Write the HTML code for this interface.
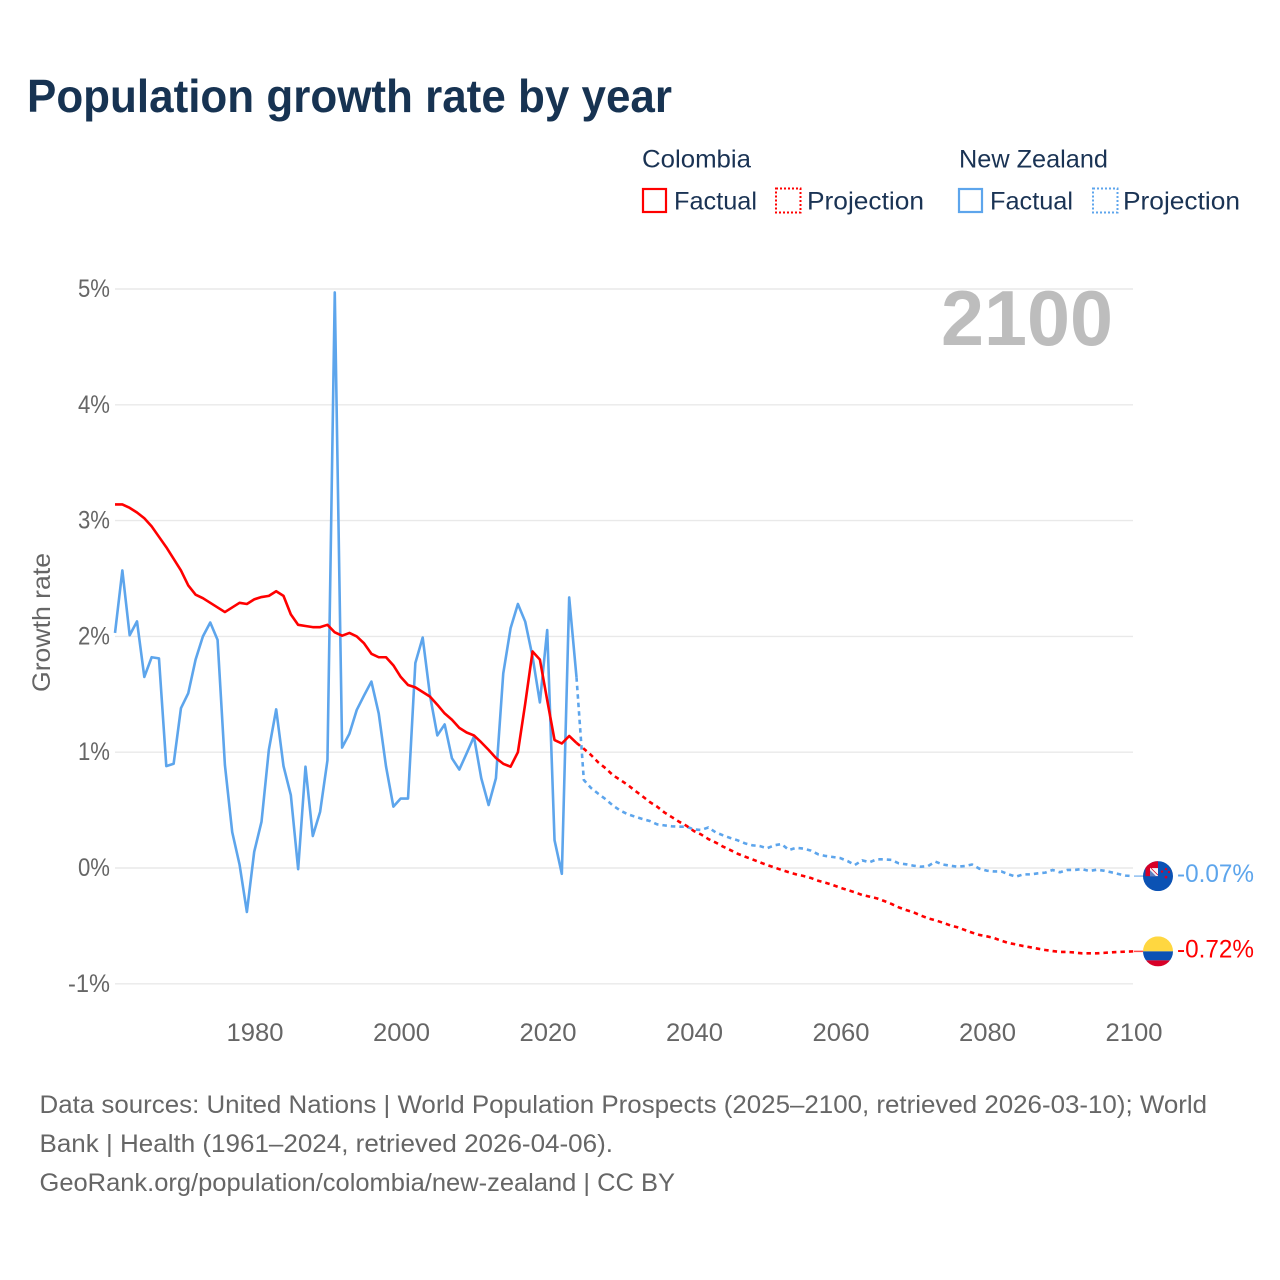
<!DOCTYPE html>
<html lang="en">
<head>
<meta charset="utf-8">
<title>Population growth rate by year</title>
<style>
html,body{margin:0;padding:0;background:#fff;}
svg{display:block;font-family:"Liberation Sans",sans-serif;}
</style>
</head>
<body>
<svg id="chart" xmlns="http://www.w3.org/2000/svg" width="1280" height="1280" viewBox="0 0 1280 1280">
  <rect x="0" y="0" width="1280" height="1280" fill="#ffffff"/>
  <text x="27" y="112" font-size="46" font-weight="700" fill="#173352" textLength="645" lengthAdjust="spacingAndGlyphs">Population growth rate by year</text>

  <g font-size="25" fill="#1a3354">
    <text x="642" y="167.5" textLength="109" lengthAdjust="spacingAndGlyphs">Colombia</text>
    <text x="959" y="167.5" textLength="149" lengthAdjust="spacingAndGlyphs">New Zealand</text>
    <rect x="643" y="189" width="23" height="23" fill="none" stroke="#ff0000" stroke-width="2.2"/>
    <text x="674" y="209.5" textLength="83" lengthAdjust="spacingAndGlyphs">Factual</text>
    <rect x="776" y="188.5" width="24.5" height="24" fill="none" stroke="#ff0000" stroke-width="2" stroke-dasharray="2 2"/>
    <text x="807" y="209.5" textLength="117" lengthAdjust="spacingAndGlyphs">Projection</text>
    <rect x="959" y="189" width="23" height="23" fill="none" stroke="#5da5ec" stroke-width="2.2"/>
    <text x="990" y="209.5" textLength="83" lengthAdjust="spacingAndGlyphs">Factual</text>
    <rect x="1093" y="188.5" width="24.5" height="24" fill="none" stroke="#5da5ec" stroke-width="2" stroke-dasharray="2 2"/>
    <text x="1123" y="209.5" textLength="117" lengthAdjust="spacingAndGlyphs">Projection</text>
  </g>

  <g id="grid"></g>
  <g id="yticks" font-size="25" fill="#666666"></g>
  <g id="xticks" font-size="25" fill="#666666"></g>
  <text transform="translate(50 622.5) rotate(-90)" text-anchor="middle" font-size="25" fill="#666666" textLength="139" lengthAdjust="spacingAndGlyphs">Growth rate</text>
  <text x="1113" y="345" text-anchor="end" font-size="78" font-weight="700" fill="#bdbdbd" textLength="172" lengthAdjust="spacingAndGlyphs">2100</text>

  <g id="series"></g>

  <defs>
    <clipPath id="flag-clip"><circle cx="0" cy="0" r="15"/></clipPath>
  </defs>
  <g id="flag-nz">
    <g clip-path="url(#flag-clip)">
      <rect x="-15" y="-15" width="30" height="30" fill="#0b52b4"/>
      <rect x="-12.5" y="-15" width="12.5" height="15" fill="#d80027"/>
      <rect x="-8" y="-8" width="8" height="8" fill="#f4f4f8"/>
      <path d="M-8,-6 L-8,0 L-2,0 Z" fill="#5f7fc0"/>
      <path d="M-7,-8 L0,-1" stroke="#d80027" stroke-width="0.8" fill="none"/>
      <circle cx="4" cy="-4.5" r="1.2" fill="#d80027"/>
      <circle cx="8" cy="-7" r="1.2" fill="#d80027"/>
      <circle cx="11" cy="-4" r="1.2" fill="#d80027"/>
      <circle cx="8" cy="1" r="1.4" fill="#d80027"/>
    </g>
  </g>
  <g id="flag-co">
    <g clip-path="url(#flag-clip)">
      <rect x="-15" y="-15" width="30" height="15" fill="#ffd740"/>
      <rect x="-15" y="0" width="30" height="9" fill="#0b52b4"/>
      <rect x="-15" y="9" width="30" height="6" fill="#d80027"/>
    </g>
  </g>
  <text id="end-nz" x="1177" font-size="25" fill="#5da5ec" textLength="77" lengthAdjust="spacingAndGlyphs"></text>
  <text id="end-co" x="1177" font-size="25" fill="#ff0000" textLength="77" lengthAdjust="spacingAndGlyphs"></text>

  <g font-size="25" fill="#666666">
    <text x="39.5" y="1113" textLength="1167.5" lengthAdjust="spacingAndGlyphs">Data sources: United Nations | World Population Prospects (2025–2100, retrieved 2026-03-10); World</text>
    <text x="39.5" y="1152" textLength="573.5" lengthAdjust="spacingAndGlyphs">Bank | Health (1961–2024, retrieved 2026-04-06).</text>
    <text x="39.5" y="1191" textLength="635.5" lengthAdjust="spacingAndGlyphs">GeoRank.org/population/colombia/new-zealand | CC BY</text>
  </g>
</svg>
<script>
const yTickValues = [5, 4, 3, 2, 1, 0, -1];
const xTickYears = [1980, 2000, 2020, 2040, 2060, 2080, 2100];
const factualStartYear = 1961;
const projectionStartYear = 2024;

const colombiaFactual = [3.14,3.14,3.11,3.07,3.02,2.95,2.86,2.77,2.67,2.57,2.44,2.36,2.33,2.29,2.25,2.21,2.25,2.29,2.28,2.32,2.34,2.35,2.39,2.35,2.19,2.10,2.09,2.08,2.08,2.10,2.035,2.006,2.03,2.00,1.94,1.85,1.82,1.82,1.75,1.65,1.58,1.56,1.52,1.48,1.41,1.335,1.28,1.21,1.17,1.145,1.085,1.02,0.95,0.90,0.875,1.00,1.42,1.87,1.80,1.45,1.105,1.075,1.14,1.08];

const colombiaProjection = [1.08,1.03,0.975,0.91,0.86,0.80,0.76,0.717,0.667,0.62,0.57,0.53,0.48,0.44,0.40,0.365,0.32,0.29,0.25,0.22,0.185,0.155,0.123,0.098,0.075,0.05,0.026,0.005,-0.017,-0.037,-0.055,-0.069,-0.086,-0.11,-0.127,-0.147,-0.17,-0.19,-0.21,-0.233,-0.247,-0.262,-0.285,-0.31,-0.34,-0.363,-0.383,-0.41,-0.435,-0.452,-0.472,-0.495,-0.512,-0.535,-0.558,-0.578,-0.59,-0.605,-0.628,-0.648,-0.66,-0.674,-0.685,-0.697,-0.708,-0.717,-0.725,-0.725,-0.73,-0.737,-0.737,-0.737,-0.733,-0.728,-0.725,-0.722,-0.72];

const newZealandFactual = [2.03,2.57,2.01,2.13,1.65,1.82,1.81,0.88,0.90,1.38,1.51,1.80,2.00,2.12,1.97,0.89,0.31,0.03,-0.38,0.14,0.40,1.02,1.37,0.88,0.63,-0.01,0.875,0.276,0.486,0.93,4.97,1.04,1.16,1.365,1.49,1.61,1.335,0.875,0.53,0.60,0.60,1.77,1.99,1.49,1.145,1.24,0.947,0.85,0.99,1.134,0.775,0.544,0.775,1.68,2.07,2.28,2.127,1.825,1.43,2.055,0.24,-0.05,2.337,1.647];

const newZealandProjection = [1.647,0.76,0.69,0.64,0.593,0.538,0.495,0.464,0.443,0.423,0.406,0.377,0.368,0.36,0.357,0.357,0.334,0.328,0.35,0.308,0.282,0.259,0.239,0.213,0.196,0.19,0.17,0.196,0.207,0.155,0.175,0.167,0.15,0.118,0.104,0.095,0.086,0.06,0.026,0.066,0.05,0.075,0.075,0.07,0.04,0.032,0.02,0.011,0.017,0.055,0.03,0.02,0.011,0.017,0.03,-0.006,-0.023,-0.03,-0.03,-0.055,-0.075,-0.055,-0.055,-0.046,-0.04,-0.017,-0.037,-0.017,-0.017,-0.009,-0.026,-0.015,-0.023,-0.037,-0.052,-0.066,-0.07];

const SVG_NS = 'http://www.w3.org/2000/svg';
const xScale = year => 255 + (year - 1980) * 7.325;
const markX = year => xScale(year) - 0.8;
const yScale = value => 868 - value * 115.8;
const plotLeft = 115;
const plotRight = 1133;
const flagX = 1158;

function make(tag, attrs, parent) {
  const el = document.createElementNS(SVG_NS, tag);
  Object.keys(attrs).forEach(k => el.setAttribute(k, attrs[k]));
  parent.appendChild(el);
  return el;
}

const gridLayer = document.getElementById('grid');
const yLayer = document.getElementById('yticks');
const xLayer = document.getElementById('xticks');
const seriesLayer = document.getElementById('series');

yTickValues.forEach(v => {
  const line = make('line', {x1: plotLeft, x2: plotRight, y1: yScale(v), y2: yScale(v), stroke: '#e9e9e9', 'stroke-width': 1.4}, gridLayer);
  
  
  const label = make('text', {x: 110, y: yScale(v) + 8, 'text-anchor': 'end', textLength: v < 0 ? 42 : 32, lengthAdjust: 'spacingAndGlyphs'}, yLayer);
  
  
  label.textContent = v + '%';
});

xTickYears.forEach(y => {
  const label = make('text', {x: xScale(y), y: 1041, 'text-anchor': 'middle', textLength: 57, lengthAdjust: 'spacingAndGlyphs'}, xLayer);
  
  
  label.textContent = y;
});

function pathFrom(values, startYear) {
  return values.map((v, i) => markX(startYear + i).toFixed(2) + ',' + yScale(v).toFixed(2)).join(' ');
}

function drawLine(values, startYear, colour, dash, name) {
  const attrs = {points: pathFrom(values, startYear), fill: 'none', stroke: colour, 'stroke-width': 2.6, 'stroke-linejoin': 'round'};
  if (dash) attrs['stroke-dasharray'] = dash;
  const line = make('polyline', attrs, seriesLayer);
  
  
}

drawLine(newZealandFactual, factualStartYear, '#5da5ec', null, 'new-zealand-factual-line');
drawLine(colombiaFactual, factualStartYear, '#ff0000', null, 'colombia-factual-line');
drawLine(newZealandProjection, projectionStartYear, '#5da5ec', '4.5 4', 'new-zealand-projection-line');
drawLine(colombiaProjection, projectionStartYear, '#ff0000', '4.5 4', 'colombia-projection-line');

function placeEnd(values, colour, flagId, textId, stubName) {
  const last = values[values.length - 1];
  const py = yScale(last);
  const stub = make('line', {x1: xScale(2100), x2: flagX - 15, y1: py, y2: py, stroke: colour, 'stroke-width': 1.5, opacity: 0.7}, seriesLayer);
  
  
  document.getElementById(flagId).setAttribute('transform', 'translate(' + flagX + ' ' + py + ')');
  const t = document.getElementById(textId);
  t.setAttribute('y', py + 6);
  t.textContent = last.toFixed(2) + '%';
}

placeEnd(newZealandProjection, '#5da5ec', 'flag-nz', 'end-nz', 'new-zealand-end-connector');
placeEnd(colombiaProjection, '#ff0000', 'flag-co', 'end-co', 'colombia-end-connector');
</script>
</body>
</html>
